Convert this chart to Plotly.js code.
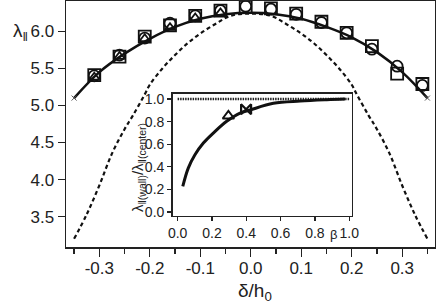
<!DOCTYPE html>
<html><head><meta charset="utf-8">
<script src="https://cdn.plot.ly/plotly-3.0.1.min.js"></script>
<style>html,body{margin:0;padding:0;background:#fff;}#chart{width:436px;height:303px;}</style>
</head><body><div id="chart"></div>
<script>
// main panel: solid fit curve
const fitDelta  = [-0.35,-0.30,-0.25,-0.20,-0.15,-0.10,-0.05,0.00,0.05,0.10,0.15,0.20,0.25,0.30,0.35];
const fitLambda = [5.10,5.45,5.70,5.90,6.06,6.17,6.23,6.25,6.23,6.17,6.06,5.92,5.72,5.45,5.10];
// dashed curve
const dashDelta  = [-0.35,-0.325,-0.30,-0.275,-0.25,-0.233,-0.21,-0.20,-0.175,-0.15,-0.125,-0.10,-0.07,-0.04,0.00,0.04,0.07,0.10,0.125,0.15,0.175,0.20,0.21,0.233,0.25,0.275,0.30,0.325,0.35];
const dashLambda = [3.20,3.53,3.92,4.35,4.68,4.87,5.15,5.28,5.50,5.68,5.84,5.97,6.10,6.21,6.24,6.21,6.10,5.97,5.84,5.68,5.50,5.28,5.15,4.87,4.68,4.35,3.92,3.53,3.20];
// symbols
const markDelta    = [-0.31,-0.26,-0.21,-0.16,-0.11,-0.06,-0.01,0.04,0.09,0.14,0.19,0.24,0.29,0.34];
const squareLambda = [5.41,5.66,5.93,6.08,6.21,6.28,6.33,6.31,6.24,6.13,5.98,5.80,5.43,5.29];
const circleLambda = [5.40,5.68,5.91,6.11,6.21,6.28,6.34,6.30,6.23,6.12,5.98,5.76,5.53,5.27];
const triDelta  = [-0.31,-0.26,-0.21,-0.16,-0.11,-0.06];
const triLambda = [5.38,5.66,5.90,6.05,6.18,6.25];
const endDelta  = [-0.35,0.35];
const endLambda = [5.10,5.10];
// inset
const betaCurve  = [0.030,0.062,0.101,0.150,0.208,0.286,0.364,0.422,0.558,0.714,0.869,0.976];
const ratioCurve = [0.227,0.389,0.507,0.611,0.699,0.803,0.876,0.903,0.962,0.982,0.994,1.000];
const refBeta  = [0,1];
const refRatio = [1,1];
const triBeta = [0.296], triRatio = [0.85];
const bowBeta = [0.399], bowRatio = [0.91];
// tick labels
const mainXTicks = [-0.3,-0.2,-0.1,0.0,0.1,0.2,0.3];
const mainXText  = ['-0.3','-0.2','-0.1','0.0','0.1','0.2','0.3'];
const mainYTicks = [3.5,4.0,4.5,5.0,5.5,6.0];
const mainYText  = ['3.5','4.0','4.5','5.0','5.5','6.0'];
const insetXTicks = [0,0.2,0.4,0.6,0.8,1.0];
const insetXText  = ['0.0','0.2','0.4','0.6','0.8','1.0'];
const insetYTicks = [0,0.2,0.4,0.6,0.8,1.0];
const insetYText  = ['0.0','0.2','0.4','0.6','0.8','1.0'];

const K = '#111';
const F = 'Liberation Sans, Arial, Helvetica, sans-serif';

const traces = [
  {x: dashDelta, y: dashLambda, mode:'lines', line:{color:K, width:2.2, dash:'4px,3px', shape:'spline'}},
  {x: fitDelta, y: fitLambda, mode:'lines', line:{color:K, width:2.5, shape:'spline'}},
  {x: markDelta, y: squareLambda, mode:'markers', marker:{symbol:'square-open', size:12, color:K, line:{width:1.8, color:K}}},
  {x: markDelta, y: circleLambda, mode:'markers', marker:{symbol:'circle-open', size:11, color:K, line:{width:1.8, color:K}}},
  {x: triDelta, y: triLambda, mode:'markers', marker:{symbol:'triangle-up-open', size:9, color:K, line:{width:1.8, color:K}}},
  {x: endDelta, y: endLambda, mode:'markers', marker:{symbol:'x-thin-open', size:5, color:'#555', line:{width:1, color:'#555'}}},
  {x: refBeta, y: refRatio, xaxis:'x2', yaxis:'y2', mode:'lines', line:{color:'#222', width:2.4, dash:'1.5px,1px'}},
  {x: betaCurve, y: ratioCurve, xaxis:'x2', yaxis:'y2', mode:'lines', line:{color:K, width:3, shape:'spline'}},
  {x: triBeta, y: triRatio, xaxis:'x2', yaxis:'y2', mode:'markers', marker:{symbol:'triangle-up-open', size:10, color:K, line:{width:2, color:K}}},
  {x: bowBeta, y: bowRatio, xaxis:'x2', yaxis:'y2', mode:'markers', marker:{symbol:'bowtie-open', size:10, color:K, line:{width:2.2, color:K}}}
];

const axBase = {showgrid:false, zeroline:false, showline:true, mirror:true, linecolor:'#222', linewidth:1.5,
  ticks:'outside', tickcolor:'#222', tickwidth:1.3};

const layout = {
  width:436, height:303, margin:{l:66, r:1, t:1, b:56},
  paper_bgcolor:'#fff', plot_bgcolor:'#fff', showlegend:false,
  font:{family:F, color:'#222'},
  xaxis: Object.assign({}, axBase, {range:[-0.366,0.365], tickmode:'array', tickvals:mainXTicks, ticktext:mainXText,
    ticklen:8, ticklabelstandoff:-3, tickfont:{size:17, family:F, color:'#222'},
    minor:{tickmode:'linear', tick0:0, dtick:0.05, ticks:'outside', ticklen:5, tickcolor:'#222', tickwidth:1.2}}),
  yaxis: Object.assign({}, axBase, {range:[3.09,6.41], tickmode:'array', tickvals:mainYTicks, ticktext:mainYText,
    ticklen:7, tickfont:{size:17, family:F, color:'#222'}}),
  xaxis2: Object.assign({}, axBase, {domain:[0.289,0.775], anchor:'y2', range:[-0.029,1.016], tickmode:'array',
    tickvals:insetXTicks, ticktext:insetXText, ticklen:4, tickfont:{size:14, family:F, color:'#222'}}),
  yaxis2: Object.assign({}, axBase, {domain:[0.128,0.623], anchor:'x2', range:[-0.031,1.047], tickmode:'array',
    tickvals:insetYTicks, ticktext:insetYText, ticklen:4, tickfont:{size:14, family:F, color:'#222'}}),
  annotations:[
    {text:'λ<sub>‖</sub>', xref:'paper', yref:'paper', x:-0.122, y:0.875, xanchor:'center', yanchor:'middle', showarrow:false, font:{size:19, family:F, color:'#222'}},
    {text:'δ/h<sub>0</sub>', xref:'paper', yref:'paper', x:0.512, y:-0.125, xanchor:'center', yanchor:'top', showarrow:false, font:{size:19, family:F, color:'#222'}},
    {text:'λ<sub>‖(wall)</sub>/λ<sub>‖(center)</sub>', xref:'paper', yref:'paper', x:0.195, y:0.325, xanchor:'center', yanchor:'middle', textangle:-90, showarrow:false, font:{size:15, family:F, color:'#222'}},
    {text:'β', xref:'paper', yref:'paper', x:0.7236, y:0.052, xanchor:'center', yanchor:'middle', showarrow:false, font:{size:13, family:F, color:'#222'}}
  ]
};

Plotly.newPlot('chart', traces, layout, {staticPlot:true, displayModeBar:false});
</script>
</body></html>
